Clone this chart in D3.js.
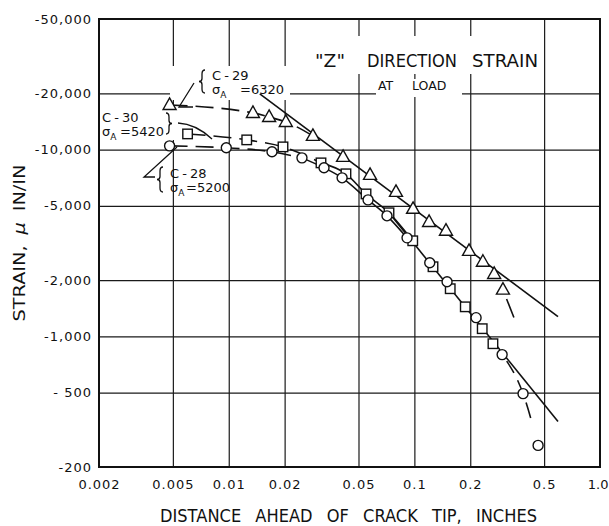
<!DOCTYPE html>
<html>
<head>
<meta charset="utf-8">
<script src="https://cdn.jsdelivr.net/npm/d3@7"></script>
<style>
  body { margin: 0; background: #fff; }
  svg text { font-family: "DejaVu Sans", sans-serif; fill: #111; }
</style>
</head>
<body>
<svg id="chart" width="609" height="526"></svg>
<script>
// axis ticks
const xTicks = [0.002, 0.005, 0.01, 0.02, 0.05, 0.1, 0.2, 0.5, 1.0];
const xTickLabels = ["0.002", "0.005", "0.01", "0.02", "0.05", "0.1", "0.2", "0.5", "1.0"];
const yTicks = [200, 500, 1000, 2000, 5000, 10000, 20000, 50000];
const yTickLabels = ["-200", "- 500", "-1,000", "-2,000", "-5,000", "-10,000", "-20,000", "-50,000"];

// C-28 (circles), sigma_A = 5200  -- strain magnitude, micro in/in
const c28x = [0.0048, 0.0097, 0.0171, 0.0248, 0.0326, 0.0408, 0.0563, 0.0712, 0.0913, 0.121, 0.150, 0.215, 0.297, 0.385, 0.464];
const c28y = [10470, 10220, 9730, 9030, 7990, 7060, 5380, 4420, 3370, 2480, 1960, 1260, 799, 494, 261];

// C-30 (squares), sigma_A = 5420
const c30x = [0.0060, 0.0125, 0.0196, 0.0314, 0.0428, 0.0549, 0.073, 0.098, 0.126, 0.156, 0.188, 0.232, 0.265];
const c30y = [12130, 11270, 10340, 8490, 7420, 5790, 4590, 3250, 2360, 1800, 1440, 1100, 914];

// C-29 (triangles), sigma_A = 6320
const c29x = [0.0048, 0.0135, 0.0165, 0.0203, 0.0284, 0.0413, 0.0577, 0.0796, 0.0984, 0.120, 0.148, 0.197, 0.234, 0.269, 0.300];
const c29y = [17340, 15710, 14950, 14060, 11840, 9140, 7320, 5940, 4820, 4100, 3680, 2870, 2510, 2160, 1780];

// straight fitted lines and dashed tails
const fit29x = [0.0147, 0.594], fit29y = [19860, 1275];
const tail29x = [0.300, 0.344], tail29y = [1780, 1259];
const fit28x = [0.073, 0.594], fit28y = [4590, 350];

const svg = d3.select('#chart');
const x = d3.scaleLog().domain([0.002, 1]).range([99, 600]);
const y = d3.scaleLog().domain([200, 50000]).range([467, 19]);
const W = 600 - 99, H = 467 - 19;

// grid
const gx = svg.append('g')
  .attr('transform', 'translate(0,467)')
  .call(d3.axisBottom(x).tickValues(xTicks.slice(1, -1)).tickSize(-H).tickFormat(''));
const gy = svg.append('g')
  .attr('transform', 'translate(99,0)')
  .call(d3.axisLeft(y).tickValues(yTicks.slice(1, -1)).tickSize(-W).tickFormat(''));
[gx, gy].forEach(g => {
  g.select('.domain').remove();
  g.selectAll('line').attr('stroke', '#1a1a1a').attr('stroke-width', 1.2);
});

// white patches where the lettering interrupts the grid
const patches = [[312, 36, 228, 38], [376, 79, 86, 18], [170, 66, 120, 34], [100, 108, 76, 32]];
svg.selectAll('rect.patch').data(patches).enter().append('rect')
  .attr('x', d => d[0]).attr('y', d => d[1]).attr('width', d => d[2]).attr('height', d => d[3])
  .attr('fill', '#fff');

// frame
svg.append('rect').attr('x', 99).attr('y', 19).attr('width', W).attr('height', H)
  .attr('fill', 'none').attr('stroke', '#111').attr('stroke-width', 2);

// tick labels
const ax = svg.append('g').attr('transform', 'translate(0,467)')
  .call(d3.axisBottom(x).tickValues(xTicks).tickSize(0).tickPadding(13).tickFormat((d, i) => xTickLabels[i]));
const ay = svg.append('g').attr('transform', 'translate(99,0)')
  .call(d3.axisLeft(y).tickValues(yTicks).tickSize(0).tickPadding(7).tickFormat((d, i) => yTickLabels[i]));
[ax, ay].forEach(g => {
  g.select('.domain').remove();
  g.attr('font-family', null).attr('font-size', null);
  g.selectAll('text').style('font-size', '13px').style('letter-spacing', '1px').attr('fill', '#111');
});
// last x label sits at the window edge
ax.selectAll('text').filter((d, i) => i === xTicks.length - 1)
  .attr('text-anchor', 'end').attr('dx', 8).style('letter-spacing', '0px');

// axis titles
svg.append('text').attr('x', 160).attr('y', 522)
  .attr('textLength', 377).attr('lengthAdjust', 'spacingAndGlyphs')
  .style('font-size', '18px').style('word-spacing', '10px')
  .text('DISTANCE AHEAD OF CRACK TIP, INCHES');

const yt = svg.append('text').attr('transform', 'translate(25,243) rotate(-90)')
  .attr('text-anchor', 'middle').attr('textLength', 157).attr('lengthAdjust', 'spacingAndGlyphs')
  .style('font-size', '16px').style('word-spacing', '4px');
yt.append('tspan').text('STRAIN, ');
yt.append('tspan').style('font-style', 'italic').text('\u03bc');
yt.append('tspan').text(' IN/IN');

// title
const titleParts = [['"Z"', 315, 30], ['DIRECTION', 367, 90], ['STRAIN', 472, 66]];
svg.selectAll('text.title').data(titleParts).enter().append('text')
  .attr('x', d => d[1]).attr('y', 67).attr('textLength', d => d[2]).attr('lengthAdjust', 'spacingAndGlyphs')
  .style('font-size', '17px').text(d => d[0]);
svg.append('text').attr('x', 378).attr('y', 90).style('font-size', '12.5px').text('AT');
svg.append('text').attr('x', 412).attr('y', 90).style('font-size', '12.5px').text('LOAD');

// curves
const line = d3.line().x(d => x(d[0])).y(d => y(d[1]));
const smooth = d3.line().x(d => x(d[0])).y(d => y(d[1])).curve(d3.curveMonotoneX);
const pts = (xs, ys, a, b) => d3.zip(xs.slice(a, b + 1), ys.slice(a, b + 1));

function draw(data, gen, dash) {
  svg.append('path').attr('d', gen(data)).attr('fill', 'none')
    .attr('stroke', '#111').attr('stroke-width', 1.6)
    .attr('stroke-dasharray', dash || null);
}
const DASH = '18,8';

draw(pts(c29x, c29y, 0, 4), smooth, DASH);
draw(d3.zip(fit29x, fit29y), line);
draw(d3.zip(tail29x, tail29y), line, '0,10,20,40');

draw(pts(c30x, c30y, 0, 3), smooth, DASH);
draw(pts(c30x, c30y, 3, 7), smooth);

draw(pts(c28x, c28y, 0, 3), smooth, DASH);
draw(pts(c28x, c28y, 3, 8), smooth);
draw(d3.zip(fit28x, fit28y), line);
draw(pts(c28x, c28y, 12, 14), smooth, '0,8,14,8,16,8,16,30');

// markers
svg.selectAll('path.tri').data(d3.zip(c29x, c29y)).enter().append('path')
  .attr('transform', d => `translate(${x(d[0])},${y(d[1])})`)
  .attr('d', 'M0,-7L6.5,4.5L-6.5,4.5Z')
  .attr('fill', '#fff').attr('stroke', '#111').attr('stroke-width', 1.4);
svg.selectAll('rect.sq').data(d3.zip(c30x, c30y)).enter().append('rect')
  .attr('x', d => x(d[0]) - 4.75).attr('y', d => y(d[1]) - 4.75)
  .attr('width', 9.5).attr('height', 9.5)
  .attr('fill', '#fff').attr('stroke', '#111').attr('stroke-width', 1.4);
svg.selectAll('circle.ci').data(d3.zip(c28x, c28y)).enter().append('circle')
  .attr('cx', d => x(d[0])).attr('cy', d => y(d[1])).attr('r', 5)
  .attr('fill', '#fff').attr('stroke', '#111').attr('stroke-width', 1.4);

// specimen labels with braces and leaders
function brace(bx, y0, y1, dir) {
  const ym = (y0 + y1) / 2, w = 3 * dir;
  return `M${bx + w},${y0} Q${bx},${y0} ${bx},${y0 + 4} L${bx},${ym - 3} Q${bx},${ym} ${bx - w},${ym}` +
         ` Q${bx},${ym} ${bx},${ym + 3} L${bx},${y1 - 4} Q${bx},${y1} ${bx + w},${y1}`;
}
const ann = svg.append('g').attr('fill', 'none').attr('stroke', '#111').attr('stroke-width', 1.3);
ann.append('path').attr('d', brace(202, 70, 93, 1));
ann.append('path').attr('d', brace(169, 113, 134, -1));
ann.append('path').attr('d', brace(160, 167, 192, 1));
ann.append('path').attr('d', 'M194,83 L179,107 L193,107');
ann.append('path').attr('d', 'M178,123 Q196,124 212,139');
ann.append('path').attr('d', 'M155,177 L144,177 L177,147');

function label(lx, ly, name, lx2, sigma) {
  svg.append('text').attr('x', lx).attr('y', ly).style('font-size', '13px').style('word-spacing', '-1px').text(name);
  const t = svg.append('text').attr('x', lx).attr('y', ly + 14).style('font-size', '13px');
  t.append('tspan').text('\u03c3');
  t.append('tspan').attr('dy', 4).style('font-size', '9px').text('A');
  t.append('tspan').attr('x', lx2).attr('dy', -4).text('=' + sigma);
}
label(212, 80, 'C - 29', 240, '6320');
label(102, 122, 'C - 30', 120, '5420');
label(170, 178, 'C - 28', 186, '5200');
</script>
</body>
</html>
